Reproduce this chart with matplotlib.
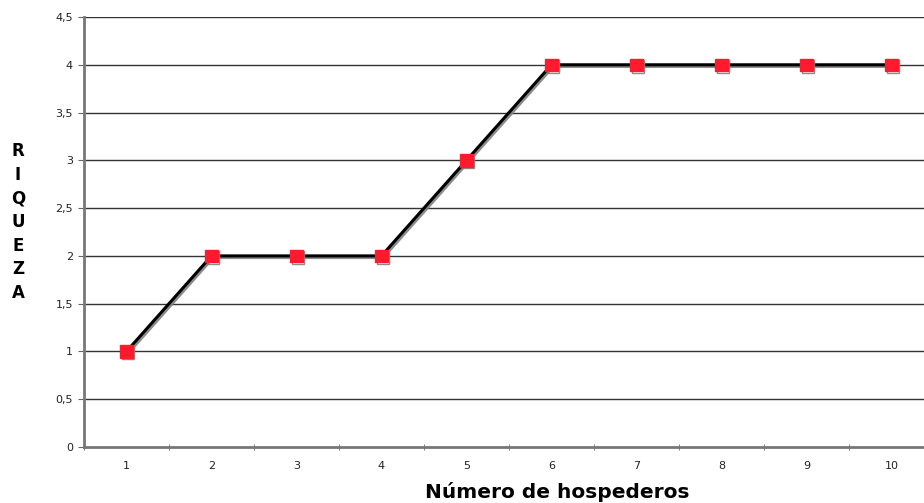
import matplotlib.pyplot as plt
import matplotlib.patheffects as pe
import numpy as np

# Riqueza por número de hospederos
hospederos = [1, 2, 3, 4, 5, 6, 7, 8, 9, 10]
riqueza = [1, 2, 2, 2, 3, 4, 4, 4, 4, 4]
y_ticks = [0, 0.5, 1, 1.5, 2, 2.5, 3, 3.5, 4, 4.5]
y_labels = ['0', '0,5', '1', '1,5', '2', '2,5', '3', '3,5', '4', '4,5']

fig = plt.figure(figsize=(9.24, 5.03), dpi=100)
# plot area runs past the right edge of the figure
ax = fig.add_axes([84 / 924, 1 - 447 / 503, 850 / 924, 430 / 503])

ax.set_xlim(0.5, 10.5)
ax.set_ylim(0, 4.5)

for y in y_ticks[1:]:
    ax.axhline(y, color='#333333', lw=1.0, zorder=1)

shadow = [pe.SimpleLineShadow(offset=(1.2, -1.2), shadow_color='#808080', alpha=0.9), pe.Normal()]
ax.plot(hospederos, riqueza, color='black', lw=2.2, zorder=3, path_effects=shadow)
ax.plot(hospederos, riqueza, ls='none', marker='s', ms=9, mfc='#ff1a2e', mec='#ff1a2e',
        zorder=4, path_effects=shadow)

ax.set_yticks(y_ticks)
ax.set_yticklabels(y_labels, fontsize=8, color='#222222')
ax.set_xticks(hospederos)
ax.set_xticklabels([str(h) for h in hospederos], fontsize=8, color='#222222')
ax.set_xticks(np.arange(0.5, 11, 1), minor=True)
ax.tick_params(axis='x', which='major', length=0, pad=10)
ax.tick_params(axis='x', which='minor', length=4, direction='inout', color='#666666')
ax.tick_params(axis='y', length=4, color='#666666', pad=4)

for side in ['top', 'right']:
    ax.spines[side].set_visible(False)
for side in ['left', 'bottom']:
    ax.spines[side].set_color('#777777')
    ax.spines[side].set_linewidth(2)

fig.text(557 / 924, 1 - 492 / 503, 'Número de hospederos', fontsize=14.5, fontweight='bold',
         ha='center', va='center')

fig.text(18 / 924, 1 - 222 / 503, 'R\nI\nQ\nU\nE\nZ\nA', fontsize=12, fontweight='bold',
         ha='center', va='center', linespacing=1.4)

fig.savefig('out.png', dpi=100)
